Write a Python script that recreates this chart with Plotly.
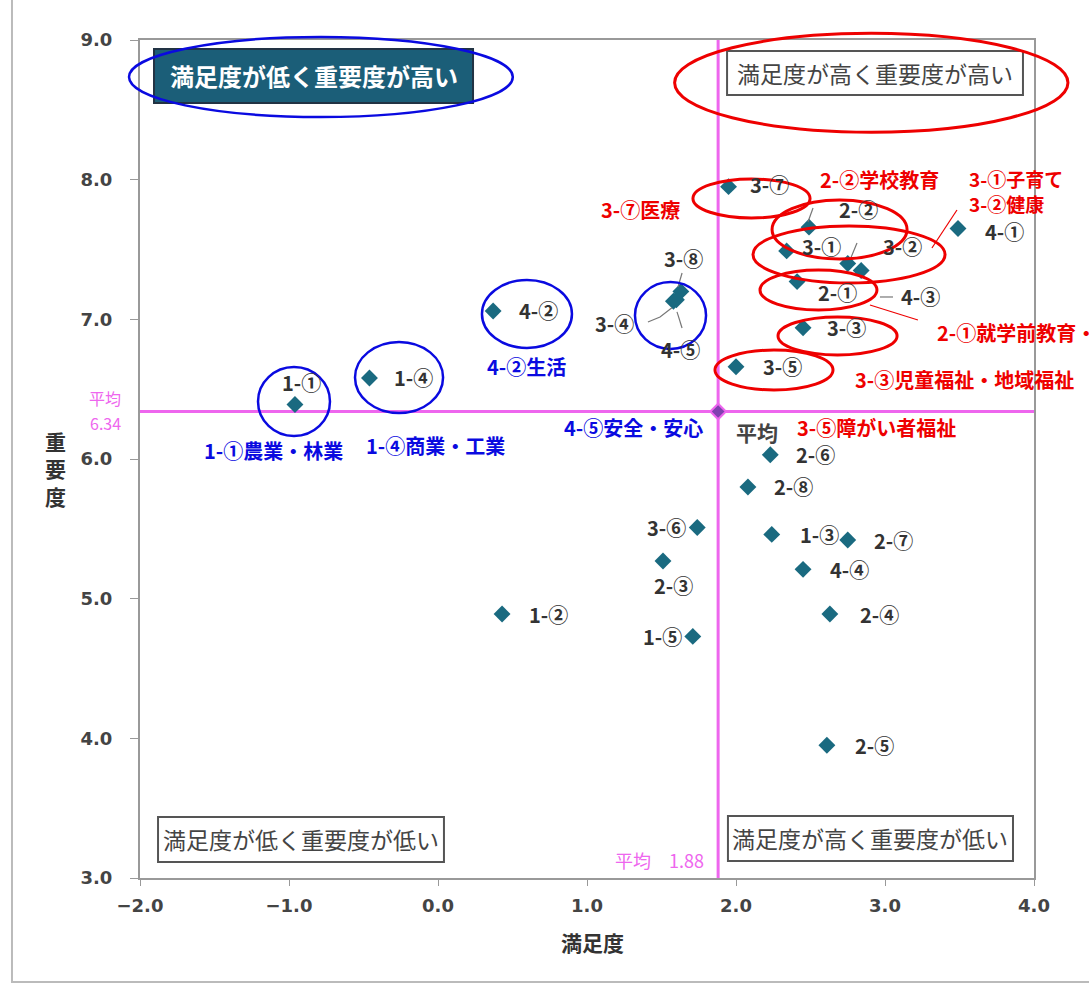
import plotly.graph_objects as go

# ---- data: satisfaction (x) vs importance (y) per policy item ----
item_labels = [
    "1-①", "1-②", "1-③", "1-④", "1-⑤",
    "2-①", "2-②", "2-③", "2-④", "2-⑤", "2-⑥", "2-⑦", "2-⑧",
    "3-①", "3-②", "3-③", "3-④", "3-⑤", "3-⑥", "3-⑦", "3-⑧",
    "4-①", "4-②", "4-③", "4-④", "4-⑤",
]
satisfaction = [
    -0.96, 0.43, 2.24, -0.46, 1.71,
    2.41, 2.49, 1.51, 2.63, 2.61, 2.23, 2.75, 2.08,
    2.34, 2.84, 2.45, 1.58, 2.00, 1.74, 1.95, 1.63,
    3.49, 0.37, 2.75, 2.45, 1.60,
]
importance = [
    6.39, 4.89, 5.46, 6.58, 4.73,
    7.27, 7.66, 5.27, 4.89, 3.95, 6.03, 5.42, 5.80,
    7.49, 7.35, 6.94, 7.13, 6.66, 5.51, 7.95, 7.20,
    7.65, 7.06, 7.40, 5.21, 7.14,
]
avg_satisfaction = 1.88
avg_importance = 6.34

x_ticks = [-2.0, -1.0, 0.0, 1.0, 2.0, 3.0, 4.0]
y_ticks = [3.0, 4.0, 5.0, 6.0, 7.0, 8.0, 9.0]

# label offsets in pixels (dx, dy) relative to each marker
label_offsets = {
    "1-①": (7, 22), "1-②": (46, 0), "1-③": (48, 0), "1-④": (44, 0), "1-⑤": (-30, 0),
    "2-①": (40, -11), "2-②": (49, 18), "2-③": (11, -25), "2-④": (50, 0), "2-⑤": (48, 0),
    "2-⑥": (45, 0), "2-⑦": (46, 0), "2-⑧": (46, 0),
    "3-①": (35, 4), "3-②": (41, 24), "3-③": (43, 0), "3-④": (-59, -22), "3-⑤": (46, 0),
    "3-⑥": (-31, 0), "3-⑦": (41, 2), "3-⑧": (3, 33),
    "4-①": (46, -3), "4-②": (45, 0), "4-③": (73, -33), "4-④": (46, 0), "4-⑤": (4, -50),
}

FONT = "Noto Sans CJK JP"
TICK_FONT = "DejaVu Sans"
MARKER = "#1a6a80"
AVG = "#ee66ee"
RED = "#ee0000"
BLUE = "#0a0ae0"
LABEL = "#333333"

fig = go.Figure()

fig.add_trace(go.Scatter(
    x=satisfaction, y=importance, mode="markers",
    marker=dict(symbol="diamond", size=13, color=MARKER),
    hoverinfo="text", text=item_labels, showlegend=False,
))
fig.add_trace(go.Scatter(
    x=[avg_satisfaction], y=[avg_importance], mode="markers",
    marker=dict(symbol="diamond", size=12, color="#8040b0", line=dict(color=AVG, width=2)),
    hoverinfo="skip", showlegend=False,
))

shapes = []
annotations = []

# average cross lines
shapes.append(dict(type="line", xref="x", yref="y", x0=-2, x1=4, y0=avg_importance, y1=avg_importance,
                   line=dict(color=AVG, width=3), layer="below"))
shapes.append(dict(type="line", xref="x", yref="y", x0=avg_satisfaction, x1=avg_satisfaction, y0=3, y1=9,
                   line=dict(color=AVG, width=3), layer="below"))

# outer chart frame
shapes.append(dict(type="rect", xref="paper", yref="paper", x0=-0.1432, y0=-0.1241, x1=1.3, y1=1.3,
                   line=dict(color="#bbbbbb", width=2), layer="below"))

# point labels
for name, xv, yv in zip(item_labels, satisfaction, importance):
    dx, dy = label_offsets[name]
    annotations.append(dict(x=xv, y=yv, xref="x", yref="y", text=name, showarrow=False,
                            xshift=dx, yshift=dy,
                            font=dict(family=FONT, size=20, color=LABEL, weight="bold")))

# leader lines near crowded labels
leaders = [
    [(2.517, 7.797), (2.483, 7.697)],
    [(2.765, 7.425), (2.812, 7.547)],
    [(2.966, 7.160), (3.054, 7.160)],
    [(1.638, 7.332), (1.611, 7.232)],
    [(1.409, 6.981), (1.490, 7.017), (1.570, 7.083)],
    [(1.604, 7.053), (1.638, 6.938)],
]
for pts in leaders:
    path = "M " + " L ".join(f"{px},{py}" for px, py in pts)
    shapes.append(dict(type="path", xref="x", yref="y", path=path, line=dict(color="#777777", width=1.2)))

# quadrant captions
quad = [
    ((-1.906, 8.549, 0.235, 8.936), "満足度が低く重要度が高い", "#1b5e78", "#ffffff", "#223344", 24, "bold"),
    ((1.940, 8.606, 3.926, 8.921), "満足度が高く重要度が高い", "#ffffff", "#444444", "#555555", 23, "normal"),
    ((-1.879, 3.115, 0.040, 3.437), "満足度が低く重要度が低い", "#ffffff", "#444444", "#555555", 23, "normal"),
    ((1.946, 3.122, 3.859, 3.444), "満足度が高く重要度が低い", "#ffffff", "#444444", "#555555", 23, "normal"),
]
for (x0, y0, x1, y1), txt, fill, fc, lc, fs, fw in quad:
    shapes.append(dict(type="rect", xref="x", yref="y", x0=x0, y0=y0, x1=x1, y1=y1,
                       fillcolor=fill, line=dict(color=lc, width=2)))
    annotations.append(dict(x=(x0 + x1) / 2, y=(y0 + y1) / 2, xref="x", yref="y", text=txt,
                            showarrow=False, font=dict(family=FONT, size=fs, color=fc, weight=fw)))

# highlight ellipses
red_ellipses = [
    (1.711, 7.726, 2.497, 8.005),
    (2.242, 7.432, 3.148, 7.854),
    (2.114, 7.260, 3.403, 7.668),
    (2.161, 7.067, 2.946, 7.353),
    (2.282, 6.745, 3.081, 7.017),
    (1.859, 6.494, 2.651, 6.780),
]
for x0, y0, x1, y1 in red_ellipses:
    shapes.append(dict(type="circle", xref="x", yref="y", x0=x0, y0=y0, x1=x1, y1=y1,
                       line=dict(color=RED, width=3)))
shapes.append(dict(type="circle", xref="paper", yref="paper", x0=0.598, y0=0.890, x1=1.038, y1=1.008,
                   line=dict(color=RED, width=3)))

blue_ellipses = [
    (-1.208, 6.165, -0.725, 6.659),
    (-0.557, 6.329, 0.034, 6.838),
    (0.295, 6.795, 0.899, 7.282),
    (1.322, 6.788, 1.799, 7.267),
]
for x0, y0, x1, y1 in blue_ellipses:
    shapes.append(dict(type="circle", xref="x", yref="y", x0=x0, y0=y0, x1=x1, y1=y1,
                       line=dict(color=BLUE, width=2.5)))
shapes.append(dict(type="circle", xref="paper", yref="paper", x0=-0.0123, y0=0.908, x1=0.417, y1=1.0036,
                   line=dict(color=BLUE, width=2.5)))

# red callout lines
for x0, y0, x1, y1 in [(3.483, 7.783, 3.315, 7.511), (2.899, 7.103, 3.221, 6.995)]:
    shapes.append(dict(type="line", xref="x", yref="y", x0=x0, y0=y0, x1=x1, y1=y1,
                       line=dict(color=RED, width=1.2)))

# callout captions
red_notes = [
    (1.362, 7.783, "3-⑦医療", "center", 20),
    (2.966, 7.998, "2-②学校教育", "center", 20),
    (3.550, 7.919, "3-①子育て<br>3-②健康", "left", 19),
    (3.336, 6.909, "2-①就学前教育・", "left", 20),
    (2.785, 6.566, "3-③児童福祉・地域福祉", "left", 20),
    (2.396, 6.222, "3-⑤障がい者福祉", "left", 20),
]
for xv, yv, txt, anchor, fs in red_notes:
    annotations.append(dict(x=xv, y=yv, xref="x", yref="y", text=txt, showarrow=False, xanchor=anchor,
                            align="left", font=dict(family=FONT, size=fs, color=RED, weight="bold")))

blue_notes = [
    (-1.584, 6.064, "1-①農業・林業"),
    (-0.497, 6.100, "1-④商業・工業"),
    (0.315, 6.659, "4-②生活"),
    (0.832, 6.229, "4-⑤安全・安心"),
]
for xv, yv, txt in blue_notes:
    annotations.append(dict(x=xv, y=yv, xref="x", yref="y", text=txt, showarrow=False, xanchor="left",
                            font=dict(family=FONT, size=20, color=BLUE, weight="bold")))

# average captions
annotations.append(dict(x=-0.0391, y=0.5728, xref="paper", yref="paper", text="平均",
                        showarrow=False, xanchor="center", yanchor="middle",
                        font=dict(family=FONT, size=16, color=AVG)))
annotations.append(dict(x=-0.0391, y=0.5430, xref="paper", yref="paper", text="6.34",
                        showarrow=False, xanchor="center", yanchor="middle",
                        font=dict(family=FONT, size=16, color=AVG)))
annotations.append(dict(x=1.799, y=3.129, xref="x", yref="y", text="平均　1.88", showarrow=False,
                        xanchor="right", font=dict(family=FONT, size=18, color=AVG)))
annotations.append(dict(x=2.141, y=6.193, xref="x", yref="y", text="平均", showarrow=False,
                        font=dict(family=FONT, size=21, color="#444444", weight="bold")))

# axis titles
annotations.append(dict(x=-0.095, y=0.489, xref="paper", yref="paper", text="重<br>要<br>度",
                        showarrow=False, xanchor="center", yanchor="middle",
                        font=dict(family=FONT, size=21, color="#333333", weight="bold")))
annotations.append(dict(x=0.5056, y=-0.0764, xref="paper", yref="paper", text="満足度",
                        showarrow=False, xanchor="center", yanchor="middle",
                        font=dict(family=FONT, size=21, color="#333333", weight="bold")))

axis_common = dict(
    showgrid=False, zeroline=False, showline=True, linecolor="#999999", linewidth=2, mirror=True,
    ticks="outside", tickcolor="#999999", tickformat=".1f",
    tickfont=dict(family=TICK_FONT, size=18, color="#444444", weight="bold"),
)
fig.update_xaxes(range=[-2, 4], tickvals=x_ticks, ticklen=6, ticklabelstandoff=4, **axis_common)
fig.update_yaxes(range=[3, 9], tickvals=y_ticks, ticklen=8, ticklabelstandoff=14, **axis_common)

fig.update_layout(
    width=1089, height=990,
    margin=dict(l=140, r=55, t=40, b=112),
    paper_bgcolor="white", plot_bgcolor="white",
    font=dict(family=FONT),
    shapes=shapes, annotations=annotations,
    showlegend=False,
)

fig.write_html("out.html")
